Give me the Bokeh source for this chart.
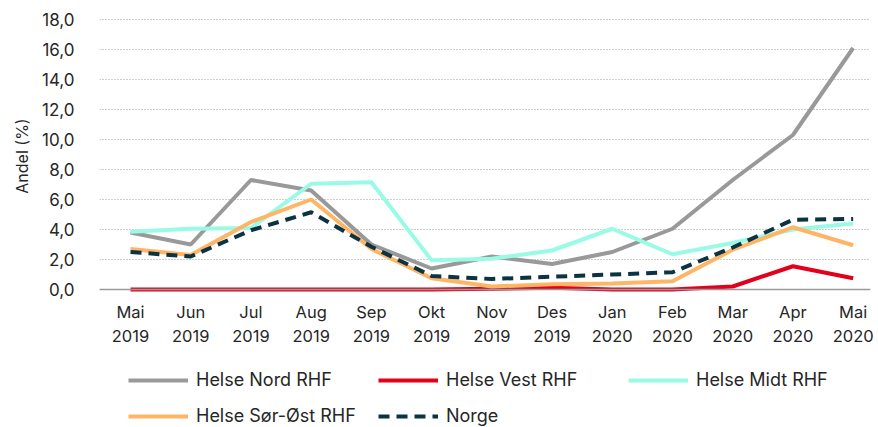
from bokeh.plotting import figure
from bokeh.models import Range1d, FixedTicker, Span, Legend, LegendItem, ColumnDataSource
from bokeh.layouts import column
from bokeh.embed import file_html
from bokeh.resources import INLINE

months = ["Mai", "Jun", "Jul", "Aug", "Sep", "Okt", "Nov", "Des", "Jan", "Feb", "Mar", "Apr", "Mai"]
years = ["2019"] * 8 + ["2020"] * 5

nord = [3.8, 3.0, 7.3, 6.6, 3.0, 1.4, 2.2, 1.7, 2.5, 4.05, 7.3, 10.3, 16.1]
vest = [0.0, 0.0, 0.0, 0.0, 0.0, 0.0, 0.05, 0.12, 0.0, 0.0, 0.2, 1.55, 0.75]
midt = [3.85, 4.05, 4.1, 7.05, 7.15, 1.95, 2.05, 2.6, 4.05, 2.35, 3.1, 4.0, 4.4]
sorost = [2.7, 2.3, 4.5, 6.0, 2.7, 0.75, 0.2, 0.35, 0.4, 0.55, 2.65, 4.15, 2.95]
norge = [2.5, 2.2, 3.95, 5.15, 2.85, 0.9, 0.7, 0.85, 1.0, 1.15, 2.8, 4.65, 4.7]

series_names = ["Helse Nord RHF", "Helse Vest RHF", "Helse Midt RHF", "Helse Sør-Øst RHF", "Norge"]
series_colors = ["#999999", "#E2001A", "#99FBE6", "#FFB566", "#0B3341"]
series_dash = ["solid", "solid", "solid", "solid", "11 7"]
y_ticks = [0, 2, 4, 6, 8, 10, 12, 14, 16, 18]
y_tick_labels = ["0,0", "2,0", "4,0", "6,0", "8,0", "10,0", "12,0", "14,0", "16,0", "18,0"]

FONT = "Inter"
x = list(range(len(months)))

p = figure(width=878, height=360, output_backend="svg", toolbar_location=None,
           x_range=Range1d(-0.515, 12.288), y_range=Range1d(-0.4, 18.2),
           min_border_left=99, min_border_right=8, min_border_top=16, min_border_bottom=65)
p.outline_line_color = None
p.background_fill_color = "white"
p.border_fill_color = "white"

p.xgrid.grid_line_color = None
p.ygrid.grid_line_color = "#9a9a9a"
p.ygrid.grid_line_dash = "1 2"
p.ygrid.grid_line_width = 1

p.yaxis.ticker = FixedTicker(ticks=y_ticks)
p.yaxis.major_label_overrides = {t: l for t, l in zip(y_ticks, y_tick_labels)}
p.xaxis.ticker = FixedTicker(ticks=x)
p.xaxis.major_label_overrides = {i: f"{m}\n{y}" for i, (m, y) in enumerate(zip(months, years))}

for ax in (p.xaxis, p.yaxis):
    ax.axis_line_color = None
    ax.major_tick_line_color = None
    ax.minor_tick_line_color = None
    ax.major_label_text_font = FONT
    ax.major_label_text_color = "#262626"
p.yaxis.major_label_text_font_size = "17px"
p.xaxis.major_label_text_font_size = "16.5px"
p.yaxis.major_label_standoff = 19
p.xaxis.major_label_standoff = 0
p.yaxis.axis_label = "Andel (%)"
p.yaxis.axis_label_text_font = FONT
p.yaxis.axis_label_text_font_size = "16px"
p.yaxis.axis_label_text_font_style = "normal"
p.yaxis.axis_label_text_color = "#262626"
p.yaxis.axis_label_standoff = 7

p.add_layout(Span(location=0, dimension="width", line_color="#9a9a9a", line_width=1.5))

src = ColumnDataSource(dict(x=x, nord=nord, vest=vest, midt=midt, sorost=sorost, norge=norge))
cols = ["nord", "vest", "midt", "sorost", "norge"]
for c, col, dash in zip(cols, series_colors, series_dash):
    p.line("x", c, source=src, line_color=col, line_width=4, line_dash=dash)

# legend strip below the chart (its lines lie outside its visible range; only the legend shows)
lg = figure(width=878, height=67, output_backend="svg", toolbar_location=None,
            x_range=Range1d(0, 1), y_range=Range1d(1000, 1001),
            x_axis_type=None, y_axis_type=None,
            min_border_left=99, min_border_right=8, min_border_top=0, min_border_bottom=0)
lg.outline_line_color = None
lg.xgrid.grid_line_color = None
lg.ygrid.grid_line_color = None
leg_renderers = [lg.line("x", c, source=src, line_color=col, line_width=4, line_dash=dash)
                 for c, col, dash in zip(cols, series_colors, series_dash)]
legend = Legend(items=[LegendItem(label=n, renderers=[r]) for n, r in zip(series_names, leg_renderers)],
                location=(29, 1), orientation="horizontal", ncols=3,
                glyph_width=60, glyph_height=20, label_height=20, label_width=167,
                label_standoff=8, spacing=15, padding=0, margin=0,
                border_line_color=None, background_fill_alpha=0,
                label_text_font=FONT, label_text_font_size="18px", label_text_color="#262626")
lg.add_layout(legend, "center")

layout = column(p, lg, spacing=0)
open("out.html", "w").write(file_html(layout, INLINE))
